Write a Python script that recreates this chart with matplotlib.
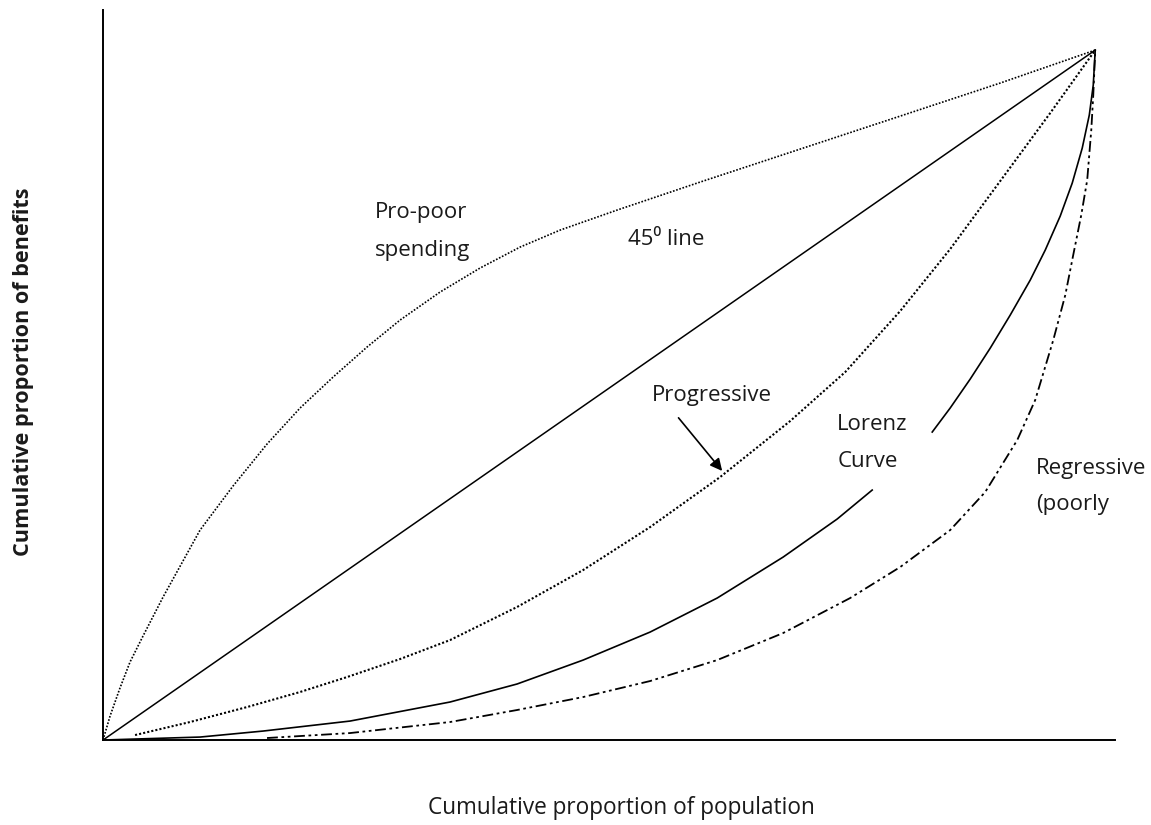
import numpy as np
import matplotlib
matplotlib.use('Agg')
import matplotlib.pyplot as plt

plt.rcParams['font.family'] = ['Open Sans', 'DejaVu Sans']

# cumulative % of population (x) and % of benefits (y)
equal_x = [0, 100]
equal_y = [0, 100]

propoor_x = [0, 0.71, 1.71, 2.72, 4.03, 6.05, 9.78, 13.10, 16.53, 19.86, 23.19, 26.61,
             29.94, 33.97, 38.00, 42.04, 46.07, 51.81, 60.18, 70.26, 80.34, 90.42, 100]
propoor_y = [0, 3.48, 7.54, 11.30, 15.07, 20.72, 30.43, 36.81, 42.90, 48.12, 52.61, 56.96,
             60.87, 64.93, 68.41, 71.45, 73.91, 76.81, 80.87, 85.65, 90.43, 95.22, 100]

progressive_x = [3.23, 8.77, 14.52, 19.86, 24.60, 29.94, 34.98, 41.73, 48.39, 55.14,
                 62.20, 69.25, 74.80, 80.34, 85.38, 90.42, 95.46, 100]
progressive_y = [0.72, 2.61, 4.78, 6.96, 9.13, 11.74, 14.49, 19.28, 24.64, 30.87,
                 38.12, 46.23, 53.33, 62.17, 71.16, 81.01, 90.87, 100]

# lorenz curve is broken where its label sits
lorenz_lo_x = [0, 9.78, 16.13, 24.90, 34.98, 41.73, 48.39, 55.14, 61.90, 68.55, 73.99, 77.52]
lorenz_lo_y = [0, 0.43, 1.30, 2.75, 5.51, 8.12, 11.59, 15.65, 20.58, 26.52, 32.03, 36.23]
lorenz_hi_x = [83.57, 85.38, 87.40, 89.42, 91.43, 93.45, 94.96, 96.47, 97.68, 98.69,
               99.40, 99.80, 100]
lorenz_hi_y = [44.64, 48.12, 52.32, 56.81, 61.59, 66.67, 71.01, 75.94, 80.72, 85.80,
               90.58, 94.93, 100]

regressive_x = [16.53, 24.90, 34.98, 41.73, 48.39, 55.14, 61.90, 68.55, 75.30, 80.34,
                85.38, 88.91, 92.14, 93.95, 95.77, 96.98, 97.78, 98.59, 99.19, 99.60,
                99.80, 100]
regressive_y = [0.29, 1.01, 2.61, 4.35, 6.23, 8.55, 11.59, 15.51, 20.58, 25.07,
                30.43, 35.94, 43.48, 49.28, 57.97, 64.49, 70.29, 76.09, 81.16, 88.41,
                93.48, 100]

fig = plt.figure(figsize=(11.51, 8.25), dpi=100)
ax = fig.add_axes([0.0895, 0.1030, 0.8793, 0.8848])

ax.plot(equal_x, equal_y, color='black', lw=1.1)
ax.plot(propoor_x, propoor_y, color='black', lw=1.2, ls=(0, (1, 1)))
ax.plot(progressive_x, progressive_y, color='black', lw=1.5, ls=(0, (1, 1)))
ax.plot(lorenz_lo_x, lorenz_lo_y, color='black', lw=1.2)
ax.plot(lorenz_hi_x, lorenz_hi_y, color='black', lw=1.2)
ax.plot(regressive_x, regressive_y, color='black', lw=1.3,
        ls=(0, (6, 2, 1.5, 2, 1.5, 2)))

ax.set_xlim(0, 102.0)
ax.set_ylim(0, 105.8)
ax.set_xticks([])
ax.set_yticks([])
for s in ['top', 'right']:
    ax.spines[s].set_visible(False)
for s in ['left', 'bottom']:
    ax.spines[s].set_linewidth(1.4)
    ax.spines[s].set_color('black')

fs = 16
tc = '#1a1a1a'
ax.text(27.4, 76.4, 'Pro-poor', fontsize=fs, color=tc, va='center')
ax.text(27.4, 71.0, 'spending', fontsize=fs, color=tc, va='center')
ax.text(52.9, 72.5, '45\u2070 line', fontsize=fs, color=tc, va='center')
ax.text(55.3, 49.9, 'Progressive', fontsize=fs, color=tc, va='center')
ax.annotate('', xy=(62.4, 39.0), xytext=(58.0, 46.7),
            arrowprops=dict(arrowstyle='-|>', color='black', lw=1.2,
                            mutation_scale=18, shrinkA=0, shrinkB=0))
ax.text(74.0, 45.7, 'Lorenz', fontsize=fs, color=tc, va='center')
ax.text(74.0, 40.4, 'Curve', fontsize=fs, color=tc, va='center')
ax.text(94.0, 39.4, 'Regressive', fontsize=fs, color=tc, va='center')
ax.text(94.0, 34.2, '(poorly', fontsize=fs, color=tc, va='center')

fig.text(621 / 1151, 1 - 808 / 825, 'Cumulative proportion of population',
         fontsize=16.3, color=tc, ha='center', va='center')
fig.text(24 / 1151, 1 - 372 / 825, 'Cumulative proportion of benefits',
         fontsize=15.6, color=tc, ha='center', va='center', rotation=90,
         fontweight='bold')

fig.savefig('out.png', dpi=100)
